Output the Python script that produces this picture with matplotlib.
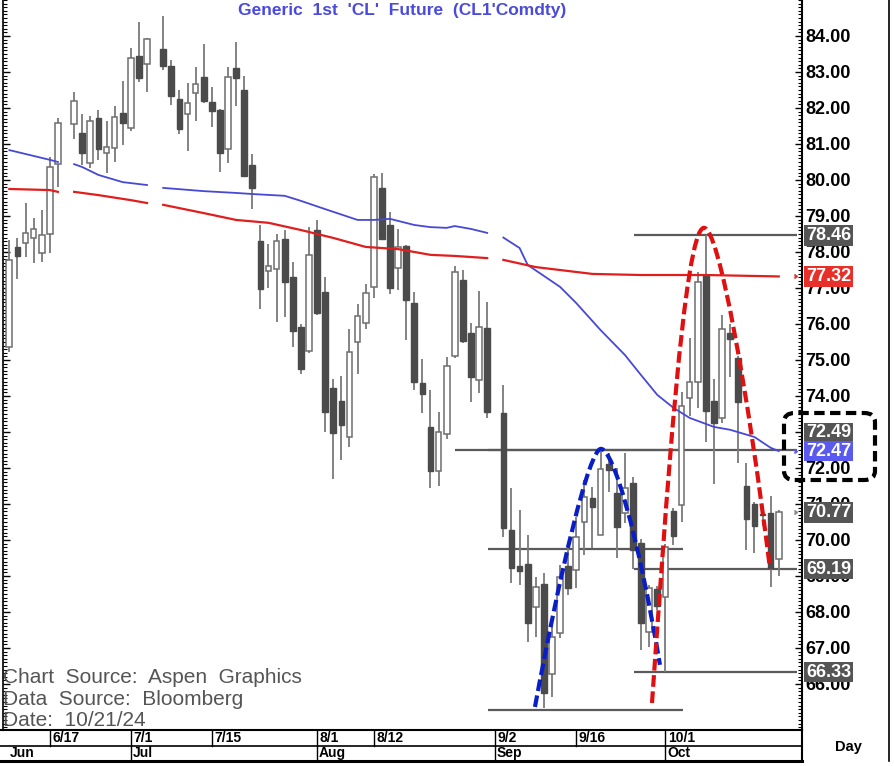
import matplotlib
matplotlib.use('Agg')
import matplotlib.pyplot as plt
import numpy as np
from matplotlib.path import Path
from matplotlib.patches import PathPatch, FancyBboxPatch
from matplotlib.lines import Line2D
from matplotlib.ticker import MultipleLocator, FixedLocator

plt.rcParams['font.family'] = ['Liberation Sans', 'DejaVu Sans']

# ---------------- data (daily bars 6/10/24 .. 10/21/24, None = holiday) ----------------
opens = [75.36, 78.14, 78.25, 78.39, 77.97, 78.50, 80.44, None, 81.56, 81.31,
         80.47, 81.72, 80.75, 80.89, 81.86, 81.44, 83.44, 83.22, None, 83.64,
         83.17, 82.25, 81.83, 82.42, 82.86, 82.17, 81.94, 80.86, 83.11, 82.50,
         80.42, 78.31, 77.47, 77.53, 78.36, 77.31, 75.92, 75.25, 78.61, 76.89,
         74.22, 73.86, 72.86, 75.50, 76.03, 77.03, 79.78, 78.75, 77.56, 78.17,
         76.58, 74.36, 73.14, 71.92, 72.94, 75.11, 77.22, 75.75, 74.44, 75.89,
         None, 73.53, 70.28, 69.28, 69.33, 68.14, 68.78, 66.28, 67.42, 69.28,
         69.17, 70.50, 71.17, 70.14, 72.11, 71.31, 70.75, 71.58, 69.92, 67.44,
         68.64, 68.42, 70.81, 70.97, 73.94, 74.39, 77.36, 73.86, 73.39, 75.75,
         75.06, 71.50, 71.00, 70.72, 70.75, 69.47]
highs = [78.33, 78.39, 79.36, 78.94, 79.17, 80.64, 81.72, None, 82.44, 81.83,
         81.78, 81.94, 81.64, 82.06, 82.75, 83.67, 84.39, 83.94, None, 84.56,
         83.33, 82.50, 82.69, 83.14, 83.78, 82.58, 81.97, 83.14, 83.83, 82.89,
         80.72, 78.75, 78.22, 78.50, 78.61, 77.72, 76.00, 78.69, 78.89, 77.31,
         74.47, 74.56, 75.86, 76.56, 77.11, 80.17, 80.19, 79.11, 78.64, 78.20,
         76.89, 75.03, 74.17, 73.56, 75.08, 77.61, 77.50, 76.03, 76.92, 76.61,
         None, 74.31, 71.44, 70.83, 70.14, 68.97, 69.08, 67.78, 69.31, 69.81,
         70.64, 71.67, 71.47, 72.56, 72.42, 72.00, 72.42, 71.75, 70.03, 68.75,
         68.72, 69.90, 70.90, 74.11, 75.61, 77.44, 78.46, 74.47, 76.25, 76.00,
         75.10, 72.14, 71.06, 70.95, 71.22, 70.83]
lows = [75.22, 77.25, 77.86, 77.69, 77.72, 77.97, 79.81, None, 81.14, 80.42,
        80.33, 80.56, 80.19, 80.50, 80.97, 81.36, 82.72, 82.44, None, 83.06,
        82.08, 81.28, 80.81, 81.64, 82.14, 81.47, 80.22, 80.47, 82.06, 80.08,
        79.19, 76.42, 77.00, 76.06, 76.19, 75.36, 74.61, 75.19, 76.25, 73.00,
        71.69, 72.22, 72.58, 74.61, 75.86, 76.72, 78.33, 76.83, 76.94, 75.56,
        74.17, 73.53, 71.44, 71.50, 72.81, 75.06, 75.47, 73.83, 74.08, 73.39,
        None, 70.08, 68.81, 68.75, 67.17, 67.31, 65.33, 65.64, 67.28, 68.47,
        68.67, 69.58, 69.78, 70.14, 71.33, 69.50, 70.47, 69.19, 66.94, 67.03,
        68.06, 66.33, 69.86, 70.50, 73.44, 73.67, 72.72, 71.56, 73.25, 74.53,
        72.14, 69.72, 69.64, 70.40, 68.69, 69.00]
closes = [77.78, 77.89, 78.53, 78.64, 78.47, 80.36, 81.58, None, 82.19, 80.75,
          81.64, 80.86, 80.92, 81.75, 81.58, 83.39, 82.83, 83.92, None, 83.17,
          82.33, 81.42, 82.14, 82.67, 82.19, 81.92, 80.75, 82.86, 82.83, 80.11,
          79.78, 76.97, 77.61, 78.31, 77.17, 75.81, 74.75, 77.92, 76.31, 73.56,
          72.97, 73.19, 75.22, 76.22, 76.86, 80.08, 78.36, 77.00, 78.14, 76.67,
          74.39, 74.06, 71.92, 73.00, 74.83, 77.44, 75.53, 74.53, 75.92, 73.56,
          None, 70.33, 69.22, 69.14, 67.69, 68.69, 65.75, 67.31, 68.97, 68.67,
          70.08, 71.19, 70.92, 71.97, 71.94, 70.36, 71.45, 69.72, 67.69, 68.67,
          68.17, 69.81, 70.11, 73.72, 74.39, 77.17, 73.58, 73.25, 75.86, 75.58,
          73.83, 70.58, 70.39, 70.68, 69.22, 70.77]

# moving averages sampled at bar index (nan = holiday break)
ma_blue_idx = [0, 5, 6, 7, 8, 9, 11, 14, 17, 18, 19, 24, 28, 30, 34, 36, 39, 43, 45, 47,
               50, 52, 54, 55, 57, 59, 60, 61, 63, 64, 68, 70, 73, 76, 78, 80, 82, 84,
               87, 89, 92, 94, 95]
ma_blue_val = [80.83, 80.56, 80.50, np.nan, 80.44, 80.36, 80.14, 79.94, 79.86, np.nan,
               79.78, 79.69, 79.64, 79.61, 79.56, 79.42, 79.19, 78.89, 78.89, 78.92,
               78.75, 78.69, 78.67, 78.72, 78.64, 78.53, np.nan, 78.40, 78.11, 77.64,
               77.03, 76.58, 75.83, 75.14, 74.58, 74.03, 73.67, 73.39, 73.14, 73.06,
               72.86, 72.56, 72.47]
ma_red_idx = [0, 5, 6, 7, 8, 11, 15, 17, 18, 19, 24, 28, 32, 36, 40, 44, 48, 52, 55, 57,
              59, 60, 61, 65, 72, 78, 86, 95]
ma_red_val = [79.75, 79.72, 79.67, np.nan, 79.67, 79.58, 79.44, 79.36, np.nan, 79.31,
              79.08, 78.89, 78.81, 78.61, 78.39, 78.14, 78.08, 77.92, 77.89, 77.86,
              77.83, np.nan, 77.78, 77.58, 77.39, 77.36, 77.36, 77.32]

# horizontal level lines: (price, from bar, to bar)
levels = [(78.46, 77.1, 97.3), (72.49, 55.0, 97.3), (72.49, 59.1, 83.2),
          (69.75, 59.1, 83.2), (69.19, 77.1, 97.3), (66.33, 77.1, 97.3),
          (65.28, 59.1, 83.2)]

# price tags on right axis: (price, text, colour, vertical shift in points)
tags = [(78.46, '78.46', '#555555', 0), (77.32, '77.32', '#e8302a', 0),
        (72.49, '72.49', '#555555', 12.5), (72.47, '72.47', '#5a5af0', 0),
        (70.77, '70.77', '#555555', 0), (69.19, '69.19', '#555555', 0),
        (66.33, '66.33', '#555555', 0)]

price_ticks = list(range(66, 85))
date_ticks = [5, 15, 25, 38, 45, 60, 70, 81]
date_labels = ['6/17', '7/1', '7/15', '8/1', '8/12', '9/2', '9/16', '10/1']
month_ticks = [0, 15, 38, 60, 81]
month_labels = ['Jun', 'Jul', 'Aug', 'Sep', 'Oct']

# annotation arcs (cubic Bezier control points, bar index / price)
blue_arc = [(64.9, 65.36), (67.99, 69.11), (71.57, 72.53), (73.05, 72.53),
            (74.53, 72.53), (77.62, 70.19), (80.33, 66.53)]
red_arc = [(79.35, 65.47), (81.07, 70.92), (83.3, 78.67), (85.77, 78.67),
           (87.62, 78.67), (91.2, 74.11), (93.91, 69.22)]

# ---------------- figure ----------------
W, H = 894, 766
fig = plt.figure(figsize=(W / 100, H / 100), dpi=100)
fig.patch.set_facecolor('white')

def fx(px):
    return px / W

def fy(py):
    return 1 - py / H

ax = fig.add_axes([fx(3), fy(730), fx(802) - fx(3), fy(0) - fy(730)])
ax.set_xlim(-0.78, 97.87)
ax.set_ylim(64.72, 85.0)

# level lines
for p, x0, x1 in levels:
    ax.plot([x0, x1], [p, p], color='#5a5a5a', lw=1.6, zorder=1, solid_capstyle='butt')

# candles
x = np.arange(len(opens))
for i in x:
    o, h, l, c = opens[i], highs[i], lows[i], closes[i]
    if o is None:
        continue
    up = c >= o
    ax.vlines(i, l, h, colors='#7a7a7a', lw=1.3, zorder=2)
    bottom = min(o, c)
    height = max(abs(c - o), 0.03)
    if up:
        ax.bar(i, height, bottom=bottom, width=0.7, color='white', edgecolor='#6e6e6e',
               linewidth=1.1, zorder=3)
    else:
        ax.bar(i, height, bottom=bottom, width=0.7, color='#4b4b4b', edgecolor='#4b4b4b',
               linewidth=1.0, zorder=3)

# moving averages
ax.plot(ma_blue_idx, ma_blue_val, color='#4848d6', lw=1.3, zorder=4)
ax.plot(ma_red_idx, ma_red_val, color='#e01e1e', lw=1.6, zorder=4)

# dashed arcs
codes = [Path.MOVETO] + [Path.CURVE4] * 6
for pts, col in [(blue_arc, '#0a1ec8'), (red_arc, '#e01010')]:
    patch = PathPatch(Path(pts, codes), fill=False, edgecolor=col, lw=3.0,
                      linestyle=(0, (2.8, 1.1)), zorder=6, capstyle='butt')
    ax.add_patch(patch)

# axes styling
ax.set_xticks([])
ax.spines['top'].set_visible(False)
ax.spines['left'].set_linewidth(1.2)
ax.spines['right'].set_linewidth(1.5)
ax.spines['bottom'].set_linewidth(1.5)
ax.yaxis.set_major_locator(FixedLocator(price_ticks))
ax.set_yticklabels([f'{v:.2f}' for v in price_ticks])
ax.yaxis.set_minor_locator(MultipleLocator(0.1))
ax.tick_params(axis='y', which='both', direction='in', left=True, right=True,
               labelleft=False, labelright=True, pad=2.5)
ax.tick_params(axis='y', which='major', length=5, width=1)
ax.tick_params(axis='y', which='minor', length=3, width=0.8)
for lab in ax.get_yticklabels():
    lab.set_fontweight('bold')
    lab.set_fontsize(13)

# price tags
for p, t, col, dy in tags:
    ax.annotate(t, xy=(1, p), xycoords=('axes fraction', 'data'),
                xytext=(2.8, dy), textcoords='offset points', ha='left', va='center',
                fontsize=13, fontweight='bold', color='white', zorder=10,
                annotation_clip=False,
                bbox=dict(boxstyle='square,pad=0.1', fc=col, ec='none'))

# small markers by tags
for p, col in [(77.32, '#e8302a'), (72.47, '#5a5af0'), (70.77, '#888888')]:
    ax.plot([97.3], [p], marker=5, color=col, ms=3, clip_on=False, zorder=7)

# dashed rounded box around 72.49/72.47
box = FancyBboxPatch((fx(784), fy(480)), fx(875) - fx(784), fy(413) - fy(480),
                     boxstyle='round,pad=0,rounding_size=0.012', transform=fig.transFigure,
                     fill=False, edgecolor='black', lw=3.0, linestyle=(0, (2.5, 1.3)))
fig.patches.append(box)

# date axis
ax2 = fig.add_axes([fx(3), fy(761), fx(802) - fx(3), fy(730) - fy(761)])
ax2.set_xlim(ax.get_xlim())
ax2.set_ylim(0, 2)
ax2.axis('off')
ax2.plot([-1.2, 97.87], [1, 1], color='black', lw=1.2, clip_on=False)
ax2.plot([-1.2, 97.87], [0, 0], color='black', lw=2.2, clip_on=False)
ax2.plot([-1.2, -0.78], [2, 2], color='black', lw=1.5, clip_on=False)
ax2.plot([97.87, 97.87], [0, 2], color='black', lw=1.5, clip_on=False)
for t, lab in zip(date_ticks, date_labels):
    ax2.plot([t, t], [1, 2], color='black', lw=1.0)
    ax2.text(t + 0.3, 1.5, lab, ha='left', va='center', fontsize=10, fontweight='bold')
for t, lab in zip(month_ticks, month_labels):
    if t > 0:
        ax2.plot([t, t], [0, 1], color='black', lw=1.0)
        ax2.text(t + 0.2, 0.5, lab, ha='left', va='center', fontsize=10, fontweight='bold')
    else:
        ax2.text(t + 0.1, 0.5, lab, ha='left', va='center', fontsize=10, fontweight='bold')

fig.text(fx(848), fy(747), 'Day', ha='center', va='center', fontsize=10.5, fontweight='bold')

# right border
fig.lines.append(Line2D([fx(889), fx(889)], [fy(0), fy(761)], transform=fig.transFigure,
                        color='black', lw=1.2))

# title and source text
fig.text(fx(402), fy(10), "Generic  1st  'CL'  Future  (CL1'Comdty)", ha='center',
         va='center', fontsize=12.5, fontweight='bold', color='#4a4adc')
for ypix, t in [(683, 'Chart  Source:  Aspen  Graphics'), (705, 'Data  Source:  Bloomberg'),
                (726, 'Date:  10/21/24')]:
    fig.text(fx(3), fy(ypix), t, ha='left', va='baseline', fontsize=15, color='#555555')

fig.savefig('out.png', dpi=100)
